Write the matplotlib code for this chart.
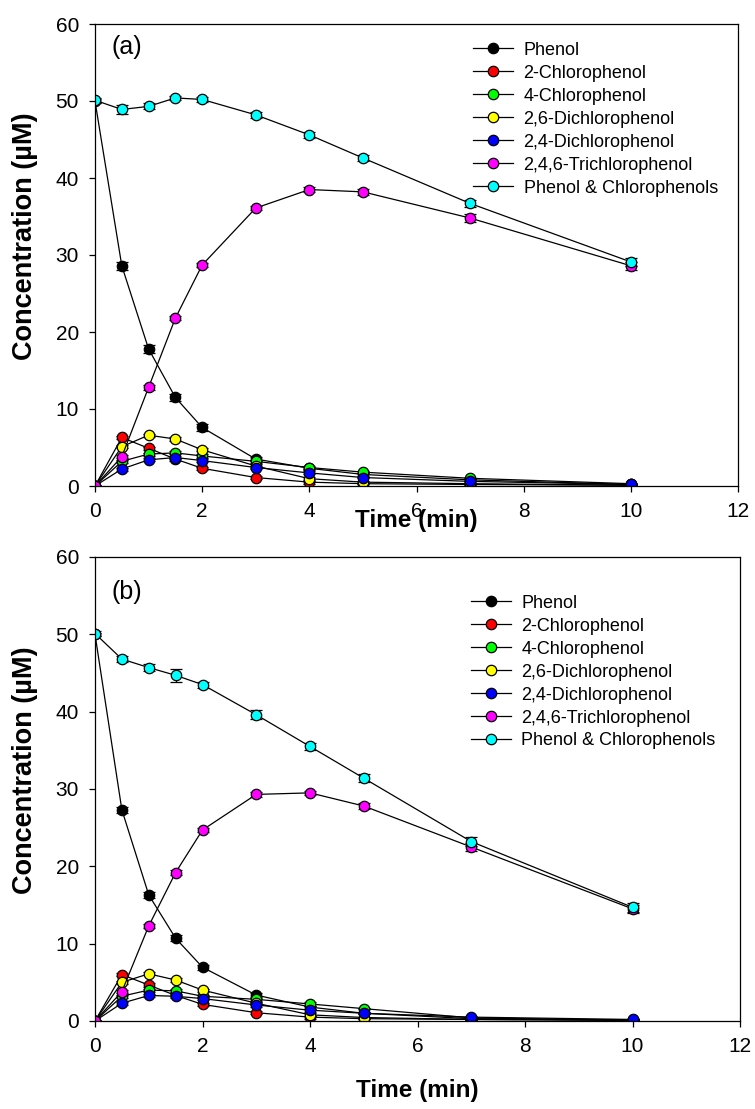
import matplotlib
matplotlib.use("Agg")
import matplotlib.pyplot as plt
from matplotlib.lines import Line2D

plt.rcParams['font.family'] = ['Liberation Sans', 'DejaVu Sans']

time = [0, 0.5, 1, 1.5, 2, 3, 4, 5, 7, 10]
names = ["Phenol", "2-Chlorophenol", "4-Chlorophenol", "2,6-Dichlorophenol",
         "2,4-Dichlorophenol", "2,4,6-Trichlorophenol", "Phenol & Chlorophenols"]
colors = ["#000000", "#ff0000", "#00ff00", "#ffff00", "#0000ff", "#ff00ff", "#00ffff"]

# Panel (a)
a_phenol = [50.0, 28.6, 17.8, 11.5, 7.6, 3.5, 2.3, 1.5, 0.8, 0.2]
a_2cp = [0.0, 6.3, 4.9, 3.5, 2.3, 1.1, 0.5, 0.3, 0.2, 0.1]
a_4cp = [0.0, 3.2, 4.15, 4.3, 3.9, 3.2, 2.4, 1.8, 1.0, 0.3]
a_26dcp = [0.0, 5.1, 6.6, 6.1, 4.7, 2.6, 0.95, 0.5, 0.3, 0.1]
a_24dcp = [0.0, 2.2, 3.4, 3.7, 3.3, 2.4, 1.7, 1.1, 0.6, 0.2]
a_246tcp = [0.0, 3.8, 12.8, 21.8, 28.7, 36.1, 38.5, 38.2, 34.8, 28.6]
a_total = [50.1, 48.9, 49.3, 50.4, 50.2, 48.2, 45.6, 42.6, 36.7, 29.1]
a_err_phenol = [0.2, 0.5, 0.5, 0.4, 0.4, 0.3, 0.2, 0.2, 0.1, 0.1]
a_err_small = [0.0, 0.2, 0.2, 0.2, 0.2, 0.2, 0.2, 0.1, 0.1, 0.1]
a_err_246tcp = [0.0, 0.2, 0.3, 0.3, 0.3, 0.3, 0.3, 0.4, 0.5, 0.5]
a_err_total = [0.3, 0.6, 0.4, 0.3, 0.3, 0.4, 0.4, 0.4, 0.5, 0.5]

# Panel (b)
b_phenol = [50.0, 27.3, 16.3, 10.7, 6.95, 3.35, 1.8, 1.0, 0.3, 0.1]
b_2cp = [0.0, 6.0, 4.65, 3.3, 2.15, 1.07, 0.5, 0.3, 0.2, 0.1]
b_4cp = [0.0, 3.2, 4.0, 3.9, 3.2, 2.8, 2.2, 1.6, 0.4, 0.1]
b_26dcp = [0.0, 5.0, 6.1, 5.3, 4.0, 2.3, 0.8, 0.45, 0.2, 0.1]
b_24dcp = [0.0, 2.3, 3.3, 3.2, 2.9, 2.07, 1.4, 1.0, 0.5, 0.2]
b_246tcp = [0.0, 3.8, 12.3, 19.2, 24.7, 29.3, 29.5, 27.8, 22.5, 14.5]
b_total = [50.1, 46.8, 45.7, 44.7, 43.5, 39.6, 35.5, 31.4, 23.2, 14.7]
b_err_phenol = [0.2, 0.4, 0.4, 0.4, 0.3, 0.3, 0.2, 0.1, 0.1, 0.1]
b_err_small = [0.0, 0.2, 0.2, 0.2, 0.2, 0.2, 0.2, 0.1, 0.1, 0.1]
b_err_246tcp = [0.0, 0.2, 0.3, 0.3, 0.3, 0.3, 0.3, 0.4, 0.5, 0.5]
b_err_total = [0.3, 0.4, 0.4, 0.8, 0.4, 0.6, 0.5, 0.5, 0.6, 0.6]

x_ticks = [0, 2, 4, 6, 8, 10, 12]
y_ticks = [0, 10, 20, 30, 40, 50, 60]

W, H = 755, 1109
fig = plt.figure(figsize=(W / 100, H / 100), dpi=100)


def px_axes(l, t, r, b):
    return fig.add_axes([l / W, 1 - b / H, (r - l) / W, (b - t) / H])


ax_a = px_axes(95, 24, 738, 486)
ax_b = px_axes(95, 557, 740, 1021)

panels = [
    (ax_a, "(a)", [a_phenol, a_2cp, a_4cp, a_26dcp, a_24dcp, a_246tcp, a_total],
     [a_err_phenol, a_err_small, a_err_small, a_err_small, a_err_small, a_err_246tcp, a_err_total],
     (0.571, 0.985), (0.05, 0.95), -0.075, 0.54),
    (ax_b, "(b)", [b_phenol, b_2cp, b_4cp, b_26dcp, b_24dcp, b_246tcp, b_total],
     [b_err_phenol, b_err_small, b_err_small, b_err_small, b_err_small, b_err_246tcp, b_err_total],
     (0.566, 0.942), (0.05, 0.925), -0.149, 0.54),
]

for ax, tag, series, errs, leg_anchor, tag_pos, xlab_y, ylab_y in panels:
    handles = []
    for name, col, vals, err in zip(names, colors, series, errs):
        ax.errorbar(time, vals, yerr=err, color="black", lw=0.9, elinewidth=0.8,
                    capsize=4, capthick=0.8, marker="o", markersize=7.5,
                    markerfacecolor=col, markeredgecolor="black", markeredgewidth=0.9)
        handles.append(Line2D([], [], color="black", lw=0.9, marker="o", markersize=7.5,
                              markerfacecolor=col, markeredgecolor="black",
                              markeredgewidth=0.9))
    ax.set_xlim(0, 12)
    ax.set_ylim(0, 60)
    ax.set_xticks(x_ticks)
    ax.set_yticks(y_ticks)
    ax.tick_params(direction="out", length=4.5, width=0.9, labelsize=15, pad=7)
    for sp in ax.spines.values():
        sp.set_linewidth(0.9)
    ax.set_xlabel("Time (min)", fontsize=17.5, fontweight="bold")
    ax.xaxis.set_label_coords(0.5, xlab_y)
    ax.xaxis.label.set_va("center")
    ax.set_ylabel("Concentration (µM)", fontsize=19.5, fontweight="bold")
    ax.yaxis.set_label_coords(-0.1085, ylab_y)
    ax.yaxis.label.set_va("center")
    ax.text(tag_pos[0], tag_pos[1], tag, transform=ax.transAxes, fontsize=18,
            ha="center", va="center")
    ax.legend(handles, names, loc="upper left", bbox_to_anchor=leg_anchor,
              frameon=False, fontsize=13, handlelength=2.2, handletextpad=0.6,
              labelspacing=0.33, borderaxespad=0.2)

fig.savefig("out.png", dpi=100)
